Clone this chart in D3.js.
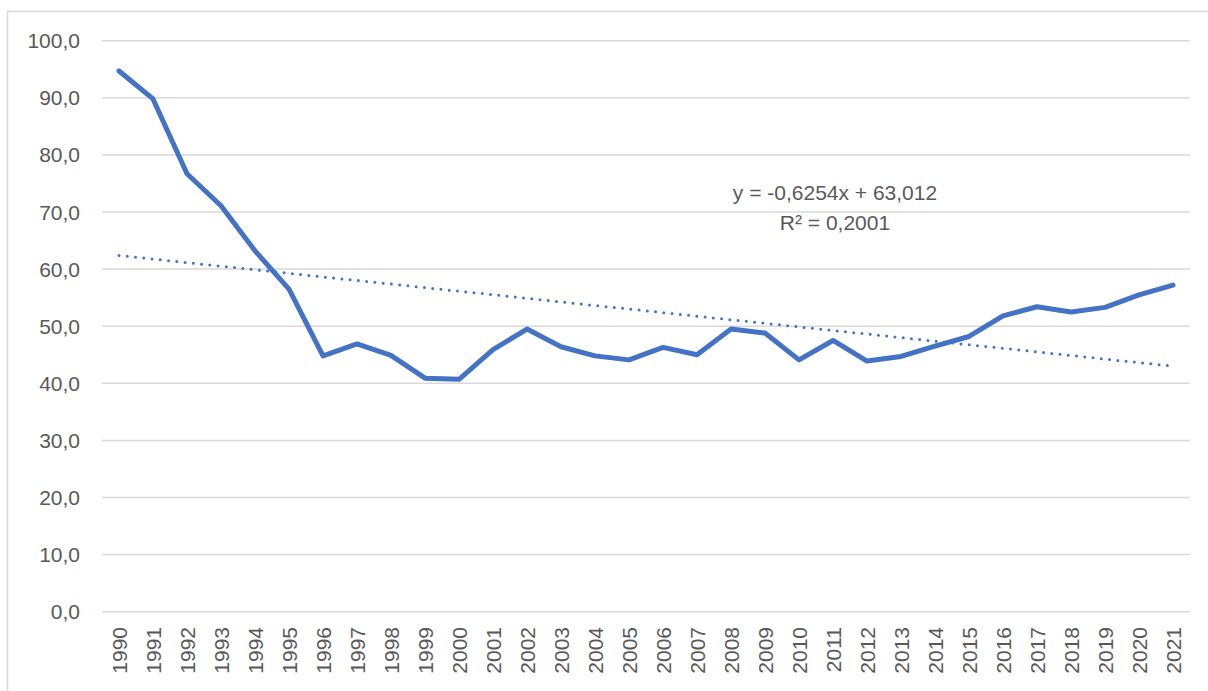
<!DOCTYPE html>
<html>
<head>
<meta charset="utf-8">
<script src="https://cdn.jsdelivr.net/npm/d3@7"></script>
<style>
  html, body { margin: 0; padding: 0; background: #fff; }
  svg { display: block; }
  text { font-family: "Liberation Sans", Arial, sans-serif; fill: #595959; }
</style>
</head>
<body>
<svg id="chart" width="1208" height="691"></svg>
<script>
const years = [1990,1991,1992,1993,1994,1995,1996,1997,1998,1999,2000,2001,2002,2003,2004,2005,2006,2007,2008,2009,2010,2011,2012,2013,2014,2015,2016,2017,2018,2019,2020,2021];
const values = [94.7,89.8,76.7,71.1,63.2,56.5,44.8,46.9,44.9,40.9,40.7,45.9,49.5,46.4,44.8,44.1,46.3,45.0,49.5,48.8,44.1,47.5,43.9,44.7,46.5,48.2,51.8,53.4,52.5,53.3,55.5,57.2];
const yTicks = [0,10,20,30,40,50,60,70,80,90,100];
const trendSlope = -0.6254;
const trendIntercept = 63.012;
const trendLabels = ["y = -0,6254x + 63,012", "R\u00B2 = 0,2001"];

const svg = d3.select("#chart");
const blue = "#4472C4";
const grid = "#d9d9d9";

// outer chart border
svg.append("rect").attr("x", 7.5).attr("y", 11.5).attr("width", 1220).attr("height", 700)
  .attr("fill", "none").attr("stroke", grid).attr("stroke-width", 1.5);

const x = d3.scaleBand().domain(years).range([102, 1190]);
const y = d3.scaleLinear().domain([0, 100]).range([611.7, 40.7]);
const fmt = d => d.toFixed(1).replace(".", ",");

// gridlines
svg.append("g").selectAll("line").data(yTicks).join("line")
  .attr("x1", 102).attr("x2", 1190)
  .attr("y1", d => y(d)).attr("y2", d => y(d))
  .attr("stroke", grid).attr("stroke-width", 1.5);

// y labels
svg.append("g").selectAll("text").data(yTicks).join("text")
  .attr("x", 80).attr("y", d => y(d))
  .attr("text-anchor", "end").attr("dominant-baseline", "central")
  .attr("font-size", 21).text(fmt);

// x labels
svg.append("g").selectAll("text").data(years).join("text")
  .attr("transform", d => `translate(${x(d) + x.bandwidth() / 2},627) rotate(-90)`)
  .attr("text-anchor", "end").attr("dominant-baseline", "central")
  .attr("font-size", 21).text(d => d);

const cx = d => x(d) + x.bandwidth() / 2;

// trendline
const trend = years.map((yr, i) => [yr, trendSlope * (i + 1) + trendIntercept]);
svg.append("path").datum([trend[0], trend[trend.length - 1]])
  .attr("d", d3.line().x(d => cx(d[0])).y(d => y(d[1])))
  .attr("fill", "none").attr("stroke", blue).attr("stroke-width", 3)
  .attr("stroke-linecap", "round").attr("stroke-dasharray", "0 8.3");

// main series
svg.append("path").datum(years.map((yr, i) => [yr, values[i]]))
  .attr("d", d3.line().x(d => cx(d[0])).y(d => y(d[1])))
  .attr("fill", "none").attr("stroke", blue).attr("stroke-width", 5)
  .attr("stroke-linejoin", "round").attr("stroke-linecap", "round");

// trend label
svg.append("g").selectAll("text").data(trendLabels).join("text")
  .attr("x", 835).attr("y", (d, i) => 200 + i * 30)
  .attr("text-anchor", "middle").attr("font-size", 21).text(d => d);
</script>
</body>
</html>
